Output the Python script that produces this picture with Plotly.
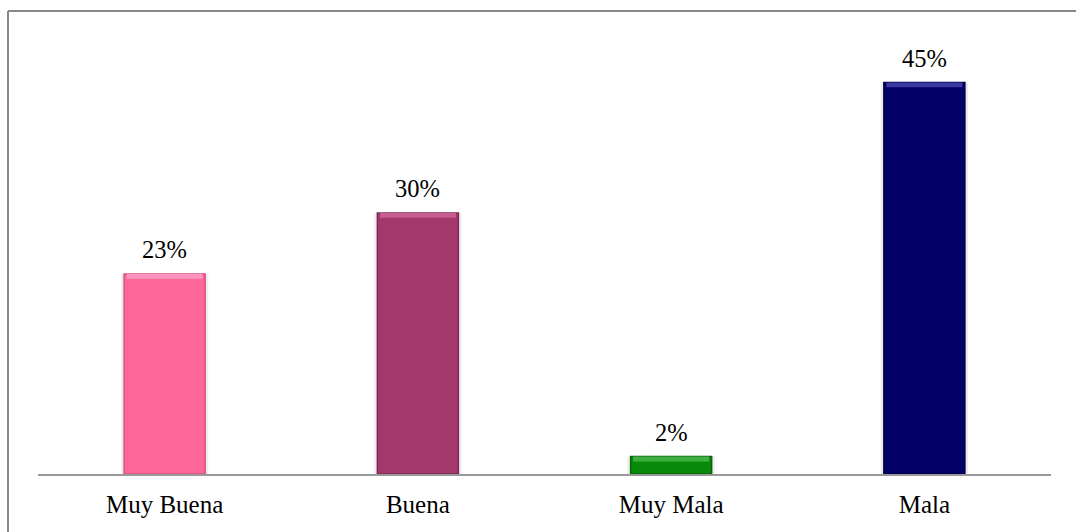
import plotly.graph_objects as go

categories = ["Muy Buena", "Buena", "Muy Mala", "Mala"]
values = [23, 30, 2, 45]
labels = ["23%", "30%", "2%", "45%"]
colors = ["#FF6699", "#A3386B", "#0A8A0A", "#000066"]
edge_colors = ["#D9507F", "#7E2A52", "#056605", "#00004A"]
highlight_colors = ["#FF94C0", "#C75C92", "#3FAF44", "#3A3AA0"]

FONT = "Liberation Serif, Times New Roman, serif"
BEVEL = 0.55  # thickness of the top highlight band, in data units

fig = go.Figure()
# soft shadow behind bars
fig.add_trace(go.Bar(
    x=categories, y=values, width=0.345,
    marker=dict(color="rgba(0,0,0,0.07)", line=dict(width=0)),
    hoverinfo="skip", showlegend=False,
))
fig.add_trace(go.Bar(
    x=categories, y=values, width=0.32,
    marker=dict(color=colors, line=dict(color=edge_colors, width=1.5)),
    showlegend=False,
))
# top bevel highlight
fig.add_trace(go.Bar(
    x=categories, y=[BEVEL] * len(values), base=[v - BEVEL for v in values],
    width=0.30,
    marker=dict(color=highlight_colors, line=dict(width=0)),
    hoverinfo="skip", showlegend=False,
))

for c, v, t in zip(categories, values, labels):
    fig.add_annotation(x=c, y=v, text=t, showarrow=False, yanchor="bottom",
                       yshift=9, font=dict(family=FONT, size=24.5, color="#000000"))

fig.update_layout(
    width=1076, height=532,
    margin=dict(l=38, r=25, t=39, b=58),
    paper_bgcolor="white", plot_bgcolor="white",
    barmode="overlay",
    xaxis=dict(showline=True, linecolor="#999999", linewidth=2, ticks="",
               tickfont=dict(family=FONT, size=25, color="#000000"), showgrid=False,
               zeroline=False, ticklabelstandoff=7),
    yaxis=dict(range=[0, 50], visible=False, showgrid=False, zeroline=False),
)

# outer frame (top and left edges visible in the crop)
fig.add_shape(type="line", xref="paper", yref="paper",
              x0=-0.0296, x1=1.05, y0=1.0644, y1=1.0644,
              line=dict(color="#888888", width=2))
fig.add_shape(type="line", xref="paper", yref="paper",
              x0=-0.0296, x1=-0.0296, y0=-0.2, y1=1.0644,
              line=dict(color="#888888", width=2))

fig.write_html("out.html", config={"displayModeBar": False})
